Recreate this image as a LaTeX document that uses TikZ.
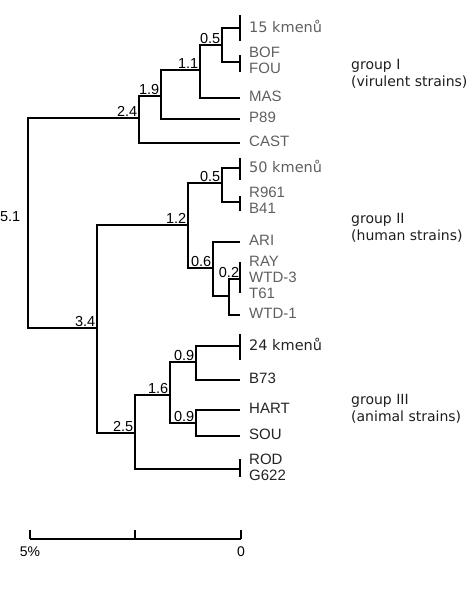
\documentclass[tikz,border=0pt]{standalone}
\usepackage{fontspec}
\setmainfont{Liberation Sans}
\newfontfamily\vera{DejaVu Sans}
\usetikzlibrary{positioning}
\definecolor{leafgray}{RGB}{95,95,95}
\definecolor{leafdark}{RGB}{35,35,35}
\definecolor{grouptext}{RGB}{30,30,30}
\tikzset{
  branch/.style={line width=1.8pt, black},
  thinbranch/.style={line width=1.1pt, black},
  cladebar/.style={line width=1.8pt, black},
  leaf/.style={anchor=west, inner sep=0pt, xshift=9pt, yshift=2pt,
    font=\fontsize{15}{16}\selectfont, text=leafgray, align=left},
  leafset/.style={leaf, font=\vera\fontsize{14.5}{16}\selectfont},
  dist/.style={anchor=south east, inner sep=1.5pt, font=\fontsize{14.5}{15}\selectfont},
  grouplabel/.style={anchor=west, align=left, inner sep=0pt,
    font=\vera\fontsize{14}{17}\selectfont, text=grouptext},
}

\begin{document}
\begin{tikzpicture}[x=1pt, y=-1pt]
  \useasboundingbox (0,0) rectangle (473,600);
  % tips
  \coordinate (t15) at (240,28);
  \coordinate (tbof) at (240,62);
  \coordinate (tmas) at (240,98);
  \coordinate (tp89) at (240,119);
  \coordinate (tcast) at (240,143);
  \coordinate (t50) at (240,168);
  \coordinate (tr961) at (240,202);
  \coordinate (tari) at (240,242);
  \coordinate (tray) at (240,279);
  \coordinate (twtd1) at (240,315);
  \coordinate (t24) at (240,346);
  \coordinate (tb73) at (240,380);
  \coordinate (thart) at (240,410);
  \coordinate (tsou) at (240,436);
  \coordinate (trod) at (240,469);
  % inner nodes
  \coordinate (root) at (28,217);
  \coordinate (n24) at (139,118);
  \coordinate (n19) at (161,96);
  \coordinate (n11) at (200,70);
  \coordinate (n05a) at (222,45);
  \coordinate (n34) at (97,328);
  \coordinate (n12) at (188,225);
  \coordinate (n05b) at (222,183);
  \coordinate (n06) at (213,268);
  \coordinate (n02) at (229,296);
  \coordinate (n25) at (135,433);
  \coordinate (n16) at (170,395);
  \coordinate (n09a) at (196,362);
  \coordinate (n09b) at (196,423);

  % branches, group I
  \draw[branch] (root) |- (n24);
  \draw[thinbranch] (n24) |- (n19);
  \draw[thinbranch] (n24) |- (tcast);
  \draw[thinbranch] (n19) |- (n11);
  \draw[thinbranch] (n19) |- (tp89);
  \draw[branch] (n11) |- (n05a);
  \draw[branch] (n11) |- (tmas);
  \draw[branch] (n05a) |- (t15);
  \draw[branch] (n05a) |- (tbof);
  % group II
  \draw[branch] (root) |- (n34);
  \draw[branch] (n34) |- (n12);
  \draw[branch] (n12) |- (n05b);
  \draw[branch] (n12) |- (n06);
  \draw[branch] (n05b) |- (t50);
  \draw[branch] (n05b) |- (tr961);
  \draw[branch] (n06) |- (tari);
  \draw[branch] (n06) |- (n02);
  \draw[branch] (n02) |- (tray);
  \draw[branch] (n02) |- (twtd1);
  % group III
  \draw[branch] (n34) |- (n25);
  \draw[branch] (n25) |- (n16);
  \draw[branch] (n25) |- (trod);
  \draw[thinbranch] (n16) |- (n09a);
  \draw[thinbranch] (n16) |- (n09b);
  \draw[branch] (n09a) |- (t24);
  \draw[branch] (n09a) |- (tb73);
  \draw[branch] (n09b) |- (thart);
  \draw[branch] (n09b) |- (tsou);

  % collapsed clades
  \draw[cladebar] ([yshift=13pt]t15) -- ([yshift=-13pt]t15);
  \draw[cladebar] ([yshift=7pt]tbof) -- ([yshift=-10pt]tbof);
  \draw[cladebar] ([yshift=10pt]t50) -- ([yshift=-12pt]t50);
  \draw[cladebar] ([yshift=6pt]tr961) -- ([yshift=-9pt]tr961);
  \draw[cladebar] ([yshift=17pt]tray) -- ([yshift=-14pt]tray);
  \draw[cladebar] ([yshift=12pt]t24) -- ([yshift=-14pt]t24);
  \draw[cladebar] ([yshift=10pt]trod) -- ([yshift=-8pt]trod);

  % distances
  \node[dist, anchor=east, xshift=-6pt] (d51) at (root) {5.1};
  \node[dist] (d24) at (n24) {2.4};
  \node[dist] (d19) at (n19) {1.9};
  \node[dist] (d11) at (n11) {1.1};
  \node[dist] (d05a) at (n05a) {0.5};
  \node[dist] (d34) at (n34) {3.4};
  \node[dist] (d12) at (n12) {1.2};
  \node[dist] (d05b) at (n05b) {0.5};
  \node[dist] (d06) at (n06) {0.6};
  \node[dist, anchor=south] (d02) at (n02 |- tray) {0.2};
  \node[dist] (d25) at (n25) {2.5};
  \node[dist] (d16) at (n16) {1.6};
  \node[dist] (d09a) at (n09a) {0.9};
  \node[dist] (d09b) at (n09b) {0.9};

  % leaves
  \node[leafset] (l15) at (t15) {15 kmenů};
  \node[leaf] (lbof) at (tbof) {BOF\\FOU};
  \node[leaf] (lmas) at (tmas) {MAS};
  \node[leaf] (lp89) at (tp89) {P89};
  \node[leaf] (lcast) at (tcast) {CAST};
  \node[leafset] (l50) at (t50) {50 kmenů};
  \node[leaf] (lr961) at (tr961) {R961\\B41};
  \node[leaf] (lari) at (tari) {ARI};
  \node[leaf] (lray) at (tray) {RAY\\WTD-3\\T61};
  \node[leaf] (lwtd1) at (twtd1) {WTD-1};
  \node[leafset, text=leafdark] (l24) at (t24) {24 kmenů};
  \node[leaf, text=leafdark] (lb73) at (tb73) {B73};
  \node[leaf, text=leafdark] (lhart) at (thart) {HART};
  \node[leaf, text=leafdark] (lsou) at (tsou) {SOU};
  \node[leaf, text=leafdark] (lrod) at (trod) {ROD\\G622};

  % groups
  \node[grouplabel] (g1) at (351,74) {group I\\(virulent strains)};
  \node[grouplabel] (g2) at (351,228) {group II\\(human strains)};
  \node[grouplabel] (g3) at (351,409) {group III\\(animal strains)};

  % scale
  \coordinate (s0) at (30,539);
  \coordinate (s1) at (135,539);
  \coordinate (s2) at (241,539);
  \draw[thinbranch] (s0) -- (s2);
  \draw[thinbranch] (s0) -- ++(0,-9);
  \draw[thinbranch] (s1) -- ++(0,-9);
  \draw[thinbranch] (s2) -- ++(0,-9);
  \node[below=8pt of s0, inner sep=0pt, font=\fontsize{14}{15}\selectfont] (lpct) {5\%};
  \node[below=8pt of s2, inner sep=0pt, font=\fontsize{14}{15}\selectfont] (lzero) {0};
\end{tikzpicture}
\end{document}
